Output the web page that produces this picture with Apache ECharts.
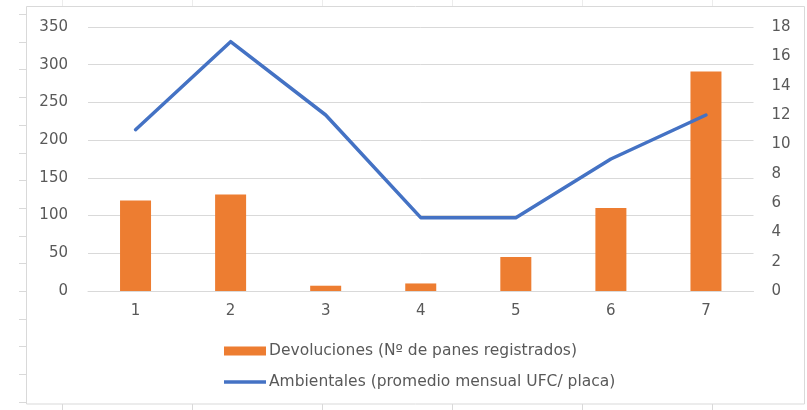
<!DOCTYPE html>
<html>
<head>
<meta charset="utf-8">
<script src="https://cdn.jsdelivr.net/npm/echarts@6/dist/echarts.min.js"></script>
<style>html,body{margin:0;padding:0;background:#fff}#c{width:807px;height:410px}</style>
</head>
<body>
<div id="c"></div>
<script>
const categories = ['1', '2', '3', '4', '5', '6', '7'];
const devoluciones = [120, 128, 7, 10, 45, 110, 291];
const ambientales = [11, 17, 12, 5, 5, 9, 12];
const leftTicks = [0, 50, 100, 150, 200, 250, 300, 350];
const rightTicks = [0, 2, 4, 6, 8, 10, 12, 14, 16, 18];
const nameBar = 'Devoluciones (Nº de panes registrados)';
const nameLine = 'Ambientales (promedio mensual UFC/ placa)';

const chart = echarts.init(document.getElementById('c'), null, {renderer: 'canvas'});
const grey = '#d9d9d9';
const txt = '#595959';
const font = 'DejaVu Sans';

// decorative frame (spreadsheet border and cell ticks)
const deco = [];
deco.push({type: 'rect', shape: {x: 26.5, y: 6.5, width: 778, height: 397.5}, style: {fill: null, stroke: grey, lineWidth: 1}, silent: true});
for (let i = 0; i < 15; i++) {
  const y = Math.round(14 + i * 27.7) + 0.5;
  deco.push({type: 'line', shape: {x1: 19, y1: y, x2: 26, y2: y}, style: {stroke: grey, lineWidth: 1}, silent: true});
}
[62, 192, 322, 452, 582, 712].forEach(x => {
  deco.push({type: 'line', shape: {x1: x + 0.5, y1: 404, x2: x + 0.5, y2: 410}, style: {stroke: grey, lineWidth: 1}, silent: true});
  deco.push({type: 'line', shape: {x1: x + 0.5, y1: 0, x2: x + 0.5, y2: 6}, style: {stroke: '#ececec', lineWidth: 1}, silent: true});
});

chart.setOption({
  animation: false,
  backgroundColor: '#fff',
  textStyle: {fontFamily: font},
  graphic: deco,
  grid: {left: 88, right: 53.5, top: 27, bottom: 119, containLabel: false},
  legend: {
    orient: 'vertical',
    left: 219,
    top: 338,
    itemGap: 15,
    itemWidth: 42,
    itemHeight: 9,
    textStyle: {color: txt, fontSize: 15.5, fontFamily: font, padding: [0, 0, 0, -2]},
    data: [
      {name: nameBar, icon: 'rect'},
      {name: nameLine, icon: 'path://M0,0L140,0L140,12L0,12Z', itemStyle: {color: '#4472C4'}}
    ]
  },
  xAxis: {
    type: 'category',
    data: categories,
    axisLine: {show: true, lineStyle: {color: grey, width: 1}},
    axisTick: {show: false},
    axisLabel: {color: txt, fontSize: 15, margin: 13, fontFamily: font}
  },
  yAxis: [
    {
      type: 'value', min: leftTicks[0], max: leftTicks[leftTicks.length - 1], interval: 50,
      axisLine: {show: false}, axisTick: {show: false},
      splitLine: {lineStyle: {color: grey, width: 1}},
      axisLabel: {color: txt, fontSize: 15, margin: 20, fontFamily: font}
    },
    {
      type: 'value', min: rightTicks[0], max: rightTicks[rightTicks.length - 1], interval: 2,
      axisLine: {show: false}, axisTick: {show: false},
      splitLine: {show: false},
      axisLabel: {color: txt, fontSize: 15, margin: 18, fontFamily: font}
    }
  ],
  series: [
    {
      name: nameBar, type: 'bar', yAxisIndex: 0, data: devoluciones,
      barWidth: 31, itemStyle: {color: '#ED7D31'}
    },
    {
      name: nameLine, type: 'line', yAxisIndex: 1, data: ambientales,
      symbol: 'none', lineStyle: {color: '#4472C4', width: 3.5, join: 'round', cap: 'round'}, itemStyle: {color: '#4472C4'}
    }
  ]
});
</script>
</body>
</html>
